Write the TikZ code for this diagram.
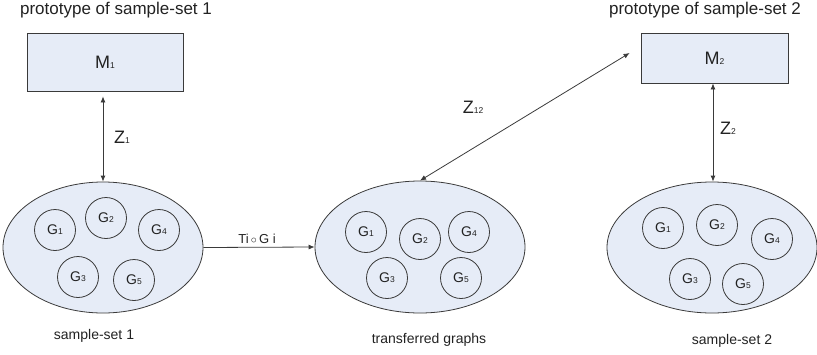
\documentclass[tikz,border=0pt]{standalone}
\usepackage{fontspec}
\setmainfont{Liberation Sans}
\usetikzlibrary{shapes.geometric,arrows.meta}
\definecolor{boxfill}{HTML}{E6ECF7}
\definecolor{edge}{HTML}{3A3A3A}
\definecolor{txt}{HTML}{222222}
\newcommand\sbs[1]{{\fontsize{8.5}{8.5}\selectfont #1}}
\tikzset{
  protobox/.style={draw=edge,line width=0.8pt,fill=boxfill,minimum width=156pt,minimum height=58pt,inner sep=0pt,font=\fontsize{18}{18}\selectfont,text=txt},
  setell/.style={ellipse,draw=edge,line width=0.8pt,fill=boxfill,inner sep=0pt},
  gcirc/.style={circle,draw=edge,line width=0.8pt,minimum size=41pt,inner sep=0pt,font=\fontsize{14}{14}\selectfont,text=txt},
  lbl/.style={text=txt,inner sep=0pt},
  conn/.style={draw=edge,line width=0.8pt,{Latex[length=6pt,width=5pt]}-{Latex[length=6pt,width=5pt]}},
  connone/.style={draw=edge,line width=0.8pt,-{Latex[length=6pt,width=5pt]}}
}
\begin{document}
\begin{tikzpicture}[x=1pt,y=-1pt]
\useasboundingbox (0,0) rectangle (817,354);
% titles
\node[lbl,font=\fontsize{17}{17}\selectfont] (t1) at (116,10) {prototype of sample-set 1};
\node[lbl,font=\fontsize{17}{17}\selectfont] (t2) at (705,10) {prototype of sample-set 2};
% boxes
\node[protobox] (M1) at (105,62) {M\sbs{1}};
\node[protobox,minimum width=147pt,minimum height=50pt] (M2) at (714.5,58) {M\sbs{2}};
% ellipses
\node[setell,minimum width=200pt,minimum height=131pt] (E1) at (103,247.5) {};
\node[setell,minimum width=210pt,minimum height=132pt] (E2) at (420,247) {};
\node[setell,minimum width=210pt,minimum height=131pt] (E3) at (712,247.5) {};
% circles set 1
\node[gcirc] (a1) at (55,230) {G\sbs{1}};
\node[gcirc] (a2) at (106,218) {G\sbs{2}};
\node[gcirc] (a4) at (159,230) {G\sbs{4}};
\node[gcirc] (a3) at (78,277) {G\sbs{3}};
\node[gcirc] (a5) at (134,280) {G\sbs{5}};
% circles set 2 (transferred)
\node[gcirc] (b1) at (366,232) {G\sbs{1}};
\node[gcirc] (b2) at (420,239) {G\sbs{2}};
\node[gcirc] (b4) at (469,232) {G\sbs{4}};
\node[gcirc] (b3) at (387,278) {G\sbs{3}};
\node[gcirc] (b5) at (461,278) {G\sbs{5}};
% circles set 3
\node[gcirc] (c1) at (663,228) {G\sbs{1}};
\node[gcirc] (c2) at (717,225) {G\sbs{2}};
\node[gcirc] (c4) at (772,239) {G\sbs{4}};
\node[gcirc] (c3) at (690,279) {G\sbs{3}};
\node[gcirc] (c5) at (743,284) {G\sbs{5}};
% bottom labels
\node[lbl,font=\fontsize{14}{14}\selectfont] (s1) at (94,336) {sample-set 1};
\node[lbl,font=\fontsize{14}{14}\selectfont] (s2) at (429,340) {transferred graphs};
\node[lbl,font=\fontsize{14}{14}\selectfont] (s3) at (732,341) {sample-set 2};
% connectors
\draw[conn,shorten <=5pt] (E1.north |- M1.south) -- (E1.north);
\node[lbl,font=\fontsize{18}{18}\selectfont,anchor=west] (z1) at (114,137) {Z\sbs{1}};
\draw[conn] ([xshift=-1.5pt]M2.south) -- ([xshift=-1.5pt]M2.south |- E3.north);
\node[lbl,font=\fontsize{18}{18}\selectfont,anchor=west] (z2) at (720,128) {Z\sbs{2}};
\draw[conn] (E2.north) -- ([xshift=-11pt,yshift=5pt]M2.west);
\node[lbl,font=\fontsize{18}{18}\selectfont] (z12) at (473,107) {Z\sbs{12}};
\draw[connone] (E1.east) -- (E2.west);
\node[lbl,font=\fontsize{13}{13}\selectfont] (tg) at (257,239) {Ti\,$\circ$\,G i};
\end{tikzpicture}
\end{document}
